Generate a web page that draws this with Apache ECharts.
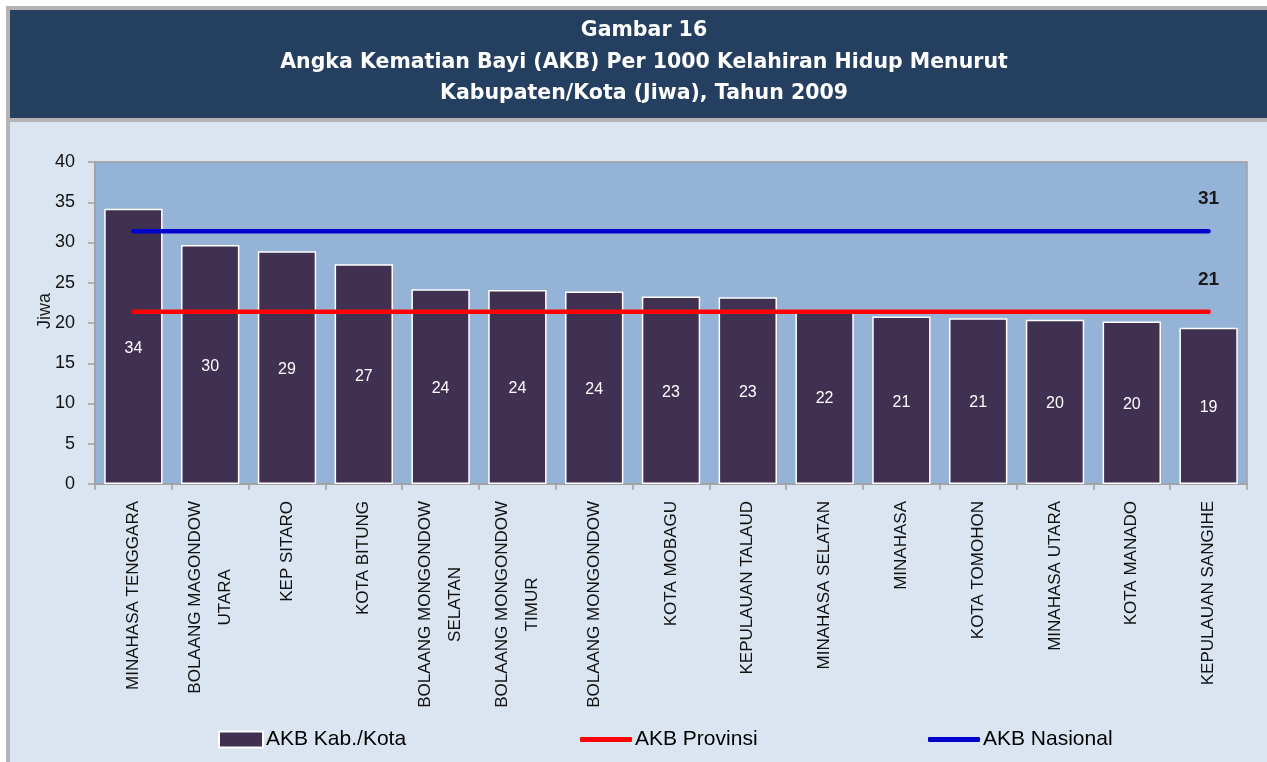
<!DOCTYPE html>
<html>
<head>
<meta charset="utf-8">
<script src="https://cdn.jsdelivr.net/npm/echarts@6/dist/echarts.min.js"></script>
<style>
html,body{margin:0;padding:0;background:#ffffff;}
#chart{width:1267px;height:762px;}
</style>
</head>
<body>
<div id="chart"></div>
<script>
// ---- data ----
var categories = [
  'MINAHASA TENGGARA',
  'BOLAANG MAGONDOW\nUTARA',
  'KEP SITARO',
  'KOTA BITUNG',
  'BOLAANG MONGONDOW\nSELATAN',
  'BOLAANG MONGONDOW\nTIMUR',
  'BOLAANG MONGONDOW',
  'KOTA MOBAGU',
  'KEPULAUAN TALAUD',
  'MINAHASA SELATAN',
  'MINAHASA',
  'KOTA TOMOHON',
  'MINAHASA UTARA',
  'KOTA MANADO',
  'KEPULAUAN SANGIHE'
];
var akbKabKota = [34.2, 29.7, 28.9, 27.3, 24.2, 24.1, 23.9, 23.3, 23.2, 21.6, 20.8, 20.6, 20.4, 20.2, 19.4];
var akbProvinsiValue = 21.4;
var akbNasionalValue = 31.4;
var yTicks = [0, 5, 10, 15, 20, 25, 30, 35, 40];
var titleLines = [
  'Gambar 16',
  'Angka Kematian Bayi (AKB) Per 1000 Kelahiran Hidup Menurut',
  'Kabupaten/Kota (Jiwa), Tahun 2009'
];
var seriesNames = ['AKB Kab./Kota', 'AKB Provinsi', 'AKB Nasional'];

// reference lines: the same value across all categories
var akbProvinsi = categories.map(function () { return akbProvinsiValue; });
var akbNasional = categories.map(function () { return akbNasionalValue; });

function lastLabelData(arr) {
  return arr.map(function (v, i) {
    if (i === arr.length - 1) {
      return { value: v, label: { show: true } };
    }
    return v;
  });
}

var chart = echarts.init(document.getElementById('chart'));
var FONT = '"Liberation Sans", Arial, sans-serif';

var option = {
  backgroundColor: '#ffffff',
  animation: false,
  graphic: [
    { type: 'rect', z: -10, silent: true, shape: { x: 6, y: 6, width: 1261, height: 756 }, style: { fill: '#b3b3b3' } },
    { type: 'rect', z: -9, silent: true, shape: { x: 10, y: 10, width: 1257, height: 108 }, style: { fill: '#243f60' } },
    { type: 'rect', z: -9, silent: true, shape: { x: 10, y: 122, width: 1257, height: 640 }, style: { fill: '#dbe5f1' } },
    { type: 'text', z: 10, x: 45, y: 311, rotation: Math.PI / 2,
      style: { text: 'Jiwa', fill: '#1a1a1a', font: '18px ' + FONT, align: 'center', verticalAlign: 'middle' } }
  ],
  title: {
    text: titleLines.join('\n'),
    left: 644,
    textAlign: 'center',
    top: 15,
    padding: 0,
    textStyle: {
      color: '#ffffff',
      fontSize: 20.5,
      fontWeight: 'bold',
      lineHeight: 31.5,
      fontFamily: '"DejaVu Sans", Verdana, sans-serif'
    }
  },
  legend: [
    { data: [seriesNames[0]], left: 218, top: 729, padding: 0, icon: 'rect', itemWidth: 44, itemHeight: 16, itemGap: 0,
      textStyle: { fontSize: 21, color: '#000', fontFamily: FONT, padding: [0, 0, 0, -2] } },
    { data: [seriesNames[1]], left: 580, top: 729, padding: 0, icon: 'roundRect', itemWidth: 52, itemHeight: 5, itemGap: 0,
      textStyle: { fontSize: 21, color: '#000', fontFamily: FONT, padding: [0, 0, 0, -2] } },
    { data: [seriesNames[2]], left: 928, top: 729, padding: 0, icon: 'roundRect', itemWidth: 52, itemHeight: 5, itemGap: 0,
      textStyle: { fontSize: 21, color: '#000', fontFamily: FONT, padding: [0, 0, 0, -2] } }
  ],
  grid: {
    left: 95, right: 20, top: 162, bottom: 278,
    show: true,
    backgroundColor: '#95b3d7',
    borderColor: '#a0a0a0',
    borderWidth: 1.5
  },
  xAxis: {
    type: 'category',
    data: categories,
    axisLine: { show: true, lineStyle: { color: '#a0a0a0', width: 1.5 } },
    axisTick: { show: true, alignWithLabel: false, length: 6, lineStyle: { color: '#a0a0a0', width: 1.5 } },
    axisLabel: {
      interval: 0,
      rotate: 90,
      margin: 17,
      color: '#111',
      fontSize: 17,
      fontFamily: FONT,
      formatter: function (v) {
        return v.split('\n').map(function (l) { return '{c|' + l + '}'; }).join('\n');
      },
      rich: {
        c: { align: 'center', fontSize: 17, lineHeight: 30, fontFamily: FONT, color: '#111' }
      }
    }
  },
  yAxis: {
    type: 'value',
    min: yTicks[0],
    max: yTicks[yTicks.length - 1],
    interval: yTicks[1] - yTicks[0],
    axisLine: { show: true, lineStyle: { color: '#a0a0a0', width: 1.5 } },
    axisTick: { show: true, length: 7, lineStyle: { color: '#a0a0a0', width: 1.5 } },
    splitLine: { show: false },
    axisLabel: { margin: 20, color: '#111', fontSize: 18, fontFamily: FONT }
  },
  series: [
    {
      name: seriesNames[0],
      type: 'bar',
      data: akbKabKota,
      barWidth: '76%',
      itemStyle: { color: '#403152', borderColor: '#ffffff', borderWidth: 1.5 },
      label: {
        show: true,
        position: 'inside',
        offset: [0, 2],
        color: '#ffffff',
        fontSize: 16,
        fontFamily: FONT,
        formatter: function (p) { return Math.round(p.value); }
      },
      z: 2
    },
    {
      name: seriesNames[1],
      type: 'line',
      data: lastLabelData(akbProvinsi),
      symbol: 'circle',
      symbolSize: 1,
      showSymbol: true,
      color: '#ff0000',
      itemStyle: { color: '#ff0000' },
      lineStyle: { color: '#ff0000', width: 4.5, cap: 'round' },
      label: {
        show: false, position: 'top', distance: 22, color: '#1a1a1a', fontSize: 19, fontWeight: 'bold', fontFamily: FONT,
        formatter: function (p) { return Math.round(p.value); }
      },
      z: 5
    },
    {
      name: seriesNames[2],
      type: 'line',
      data: lastLabelData(akbNasional),
      symbol: 'circle',
      symbolSize: 1,
      showSymbol: true,
      color: '#0000cc',
      itemStyle: { color: '#0000cc' },
      lineStyle: { color: '#0000cc', width: 4.5, cap: 'round' },
      label: {
        show: false, position: 'top', distance: 22, color: '#1a1a1a', fontSize: 19, fontWeight: 'bold', fontFamily: FONT,
        formatter: function (p) { return Math.round(p.value); }
      },
      z: 5
    }
  ]
};
chart.setOption(option);
</script>
</body>
</html>
